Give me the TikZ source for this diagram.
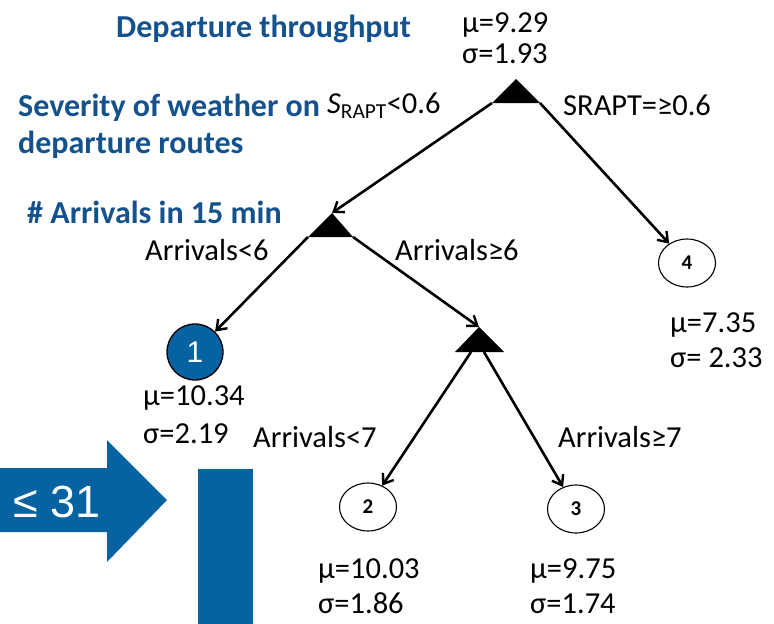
\documentclass[tikz,border=0pt]{standalone}
\usepackage{fontspec}
\setmainfont{Carlito}
\newfontfamily\arialf{Liberation Sans}
\usetikzlibrary{arrows.meta,shapes.geometric}
\definecolor{boxblue}{RGB}{6,98,160}
\definecolor{txtblue}{RGB}{20,82,142}
\tikzset{
 lbl/.style={inner sep=0pt, anchor=base west, font=\fontsize{30.5}{30.5}\selectfont},
 head/.style={inner sep=0pt, anchor=base west, text=txtblue, font=\bfseries\fontsize{32}{32}\selectfont},
 leaf/.style={ellipse, draw, line width=1.1pt, minimum width=57pt, minimum height=48pt, inner sep=0pt, font=\bfseries\fontsize{21}{21}\selectfont},
 edge/.style={line width=2.6pt, -{Straight Barb[length=9pt,width=13pt,line width=2.4pt]}},
 split/.style={fill=black}
}
\begin{document}
\begin{tikzpicture}[x=1pt,y=-1pt]
\useasboundingbox (0,0) rectangle (774,624);
% headings
\node[head] (h1) at (116,37) {Departure throughput};
\node[head] (h2) at (18,116) {Severity of weather on};
\node[head] (h3) at (18,153) {departure routes};
\node[head] (h4) at (27,223) {\# Arrivals in 15 min};
% split triangles
\coordinate (t1a) at (516,79); \coordinate (t1l) at (492,103); \coordinate (t1r) at (540,103);
\coordinate (t2a) at (332,213); \coordinate (t2l) at (308,237); \coordinate (t2r) at (353,237);
\coordinate (t3a) at (479,327); \coordinate (t3l) at (455,352); \coordinate (t3r) at (504,352);
\fill[split] (t1a) -- (t1l) -- (t1r) -- cycle;
\fill[split] (t2a) -- (t2l) -- (t2r) -- cycle;
\fill[split] (t3a) -- (t3l) -- (t3r) -- cycle;
\coordinate (t3s1) at (471,352); \coordinate (t3s2) at (484,352);
% leaves
\node[circle, draw, fill=boxblue, line width=1.3pt, minimum size=56pt, inner sep=0pt, text=white, font=\arialf\fontsize{30}{30}\selectfont] (n1) at (195,352) {1};
\node[leaf] (n2) at (368,507) {2};
\node[leaf] (n3) at (576,509) {3};
\node[leaf] (n4) at (687,263) {4};
% edges
\draw[edge] (t1l) -- (t2a);
\draw[edge] (t1r) -- (n4);
\draw[edge] (t2l) -- (n1);
\draw[edge] (t2r) -- (t3a);
\draw[edge] (t3s1) -- (n2);
\draw[edge] (t3s2) -- (n3);
% edge labels
\node[lbl] (e1) at (327,113) {{\itshape S}\textsubscript{RAPT}<0.6};
\node[lbl] (e2) at (563,115) {SRAPT=≥0.6};
\node[lbl] (e3) at (145,260) {Arrivals<6};
\node[lbl] (e4) at (395,260) {Arrivals≥6};
\node[lbl] (e5) at (253,447) {Arrivals<7};
\node[lbl] (e6) at (558,447) {Arrivals≥7};
% stats
\node[lbl] (s0a) at (462,32) {μ=9.29};
\node[lbl] (s0b) at (462,63) {σ=1.93};
\node[lbl] (s4a) at (670,332) {μ=7.35};
\node[lbl] (s4b) at (670,367) {σ= 2.33};
\node[lbl] (s1a) at (143,405) {μ=10.34};
\node[lbl] (s1b) at (143,443) {σ=2.19};
\node[lbl] (s2a) at (318,578) {μ=10.03};
\node[lbl] (s2b) at (318,613) {σ=1.86};
\node[lbl] (s3a) at (530,578) {μ=9.75};
\node[lbl] (s3b) at (530,613) {σ=1.74};
% blue arrow and bar
\fill[boxblue] (0,468) -- (107,468) -- (107,440) -- (167,500) -- (107,562) -- (107,532) -- (0,532) -- cycle;
\node[inner sep=0pt, anchor=base west, text=white, font=\arialf\fontsize{45}{45}\selectfont] (bt) at (13,517) {≤ 31};
\fill[boxblue] (198,469) rectangle (253,624);
\end{tikzpicture}
\end{document}
